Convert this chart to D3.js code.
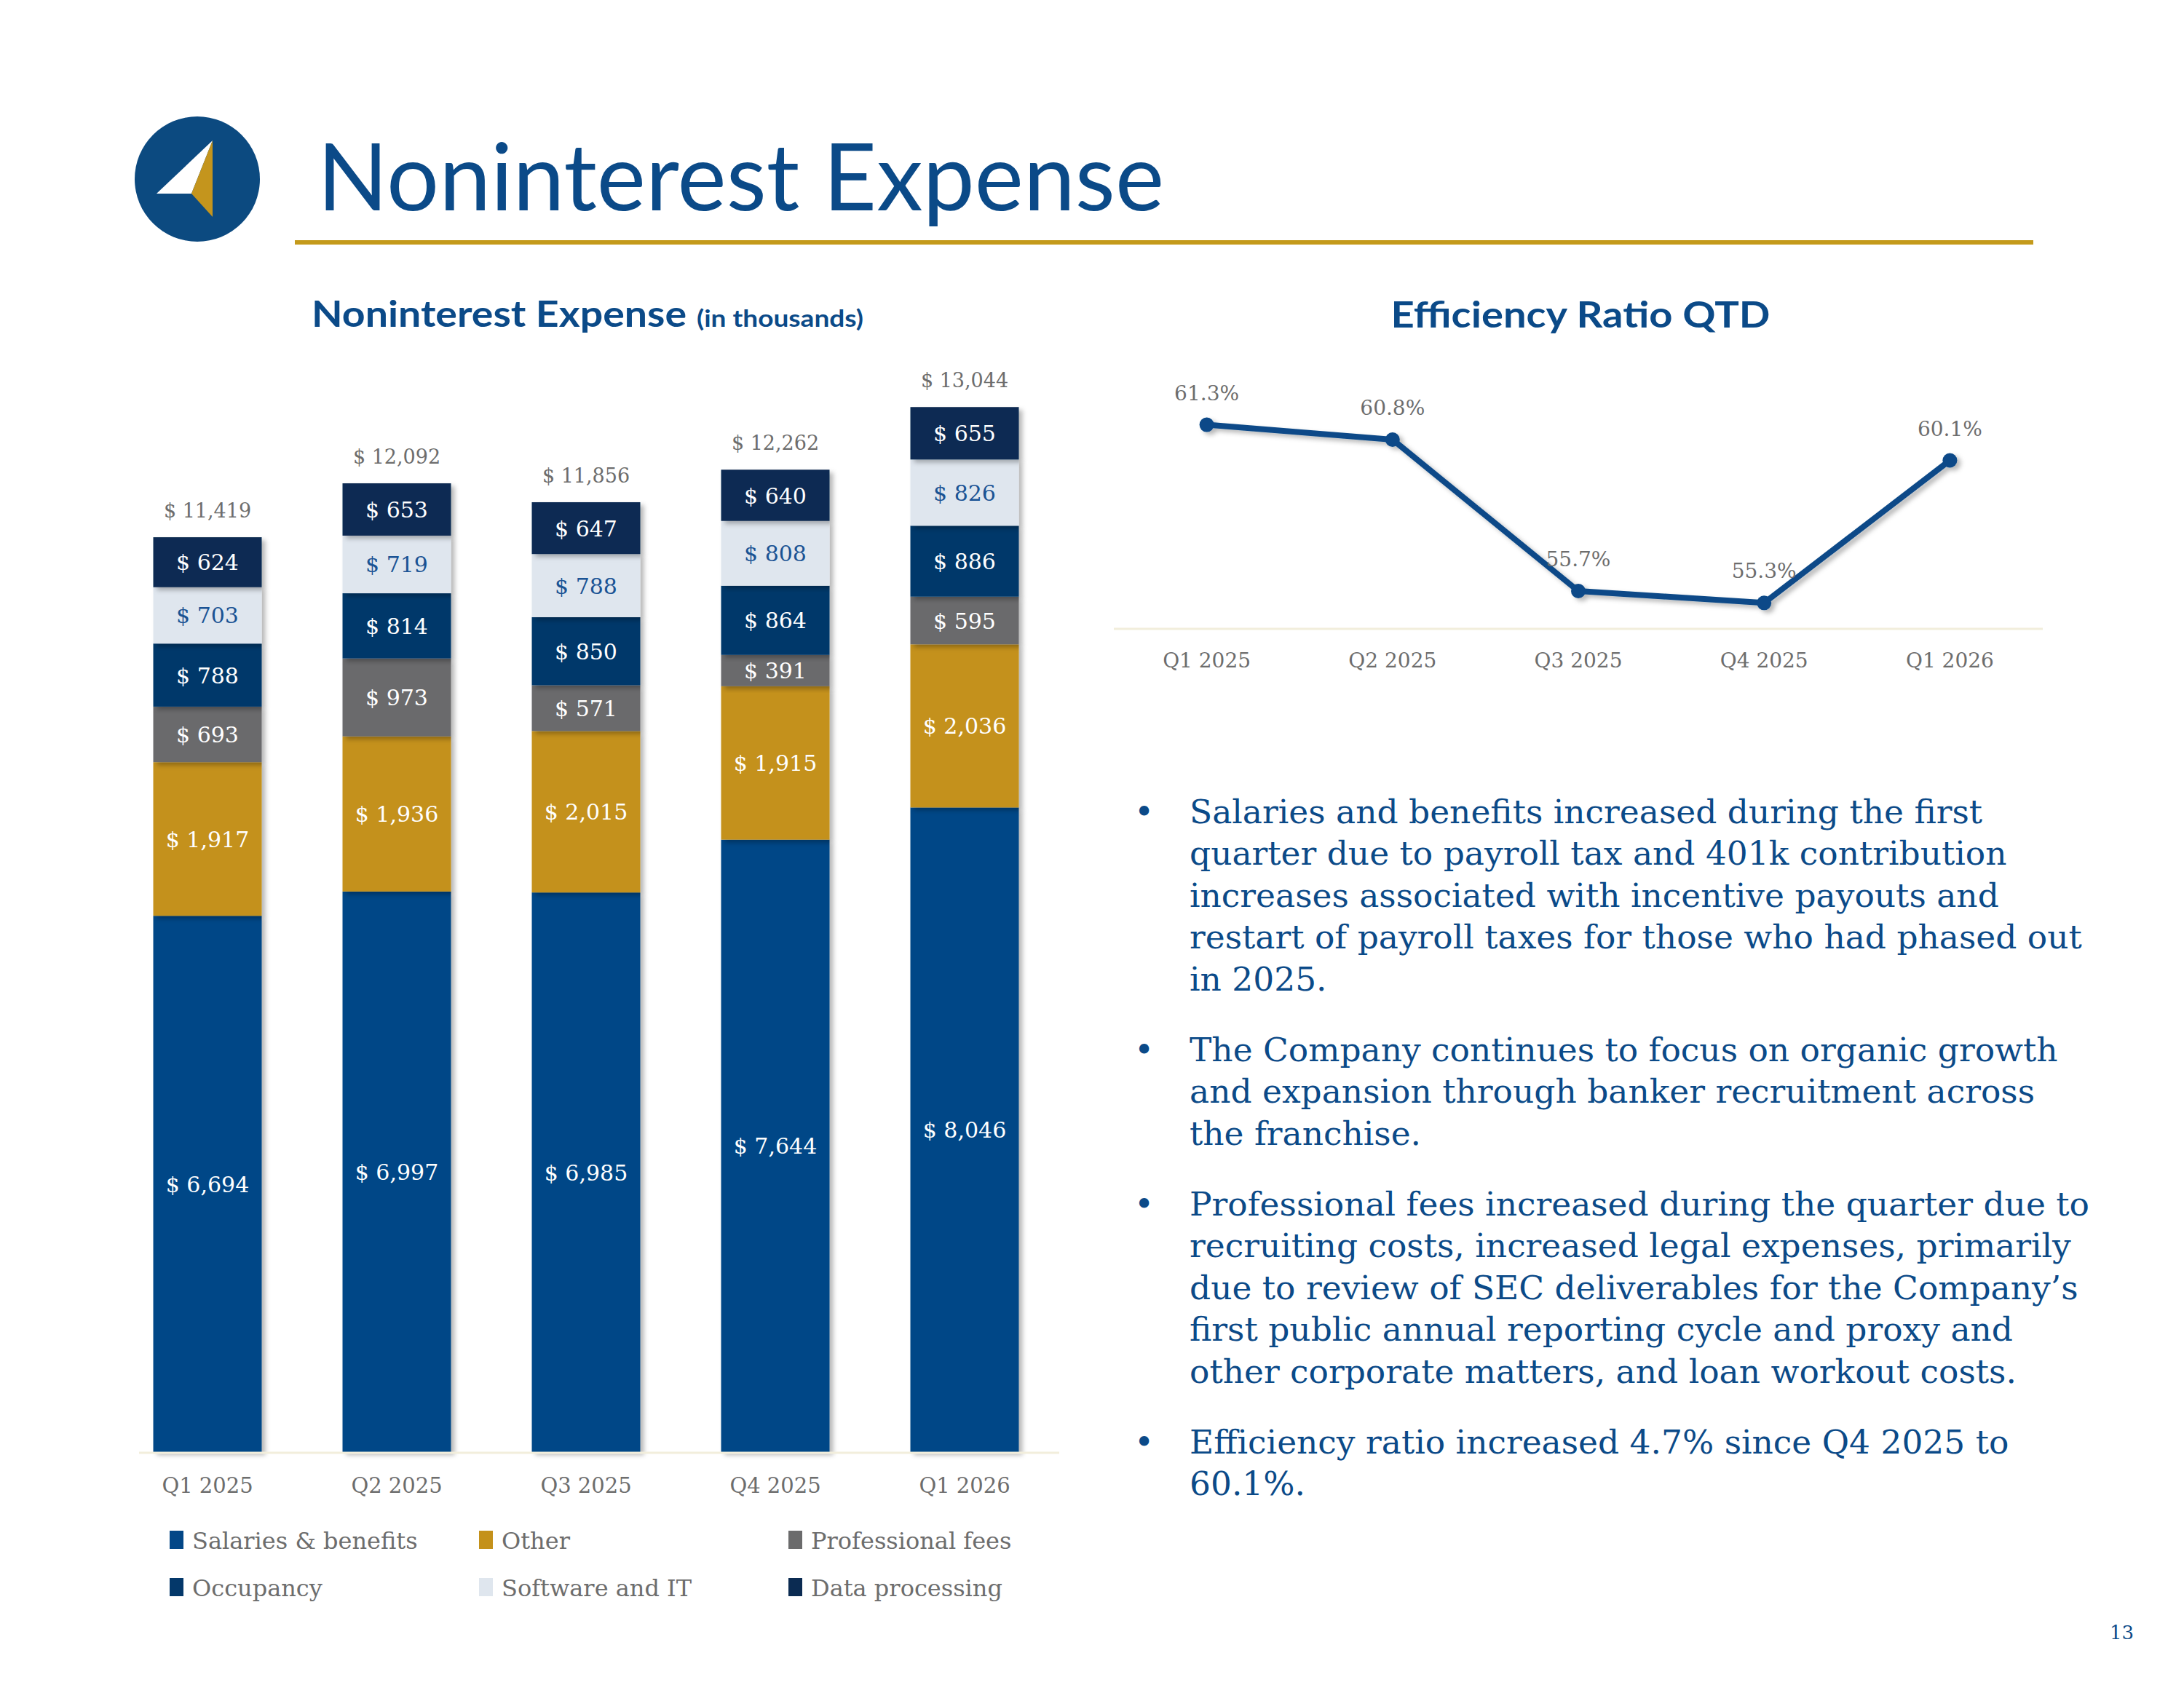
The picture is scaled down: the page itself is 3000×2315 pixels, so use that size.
<!DOCTYPE html>
<html>
<head>
<meta charset="utf-8">
<script src="https://cdn.jsdelivr.net/npm/d3@7"></script>
<style>
  body { margin: 0; background: #fff; }
  svg { display: block; }
</style>
</head>
<body>
<svg id="slide"></svg>
<script>
// quarters shared by both charts
const quarters = ["Q1 2025", "Q2 2025", "Q3 2025", "Q4 2025", "Q1 2026"];

// noninterest expense components (in thousands), bottom to top
const seriesNames = ["Salaries & benefits", "Other", "Professional fees", "Occupancy", "Software and IT", "Data processing"];
const salaries = [6694, 6997, 6985, 7644, 8046];
const other = [1917, 1936, 2015, 1915, 2036];
const profFees = [693, 973, 571, 391, 595];
const occupancy = [788, 814, 850, 864, 886];
const software = [703, 719, 788, 808, 826];
const dataProc = [624, 653, 647, 640, 655];
const totals = [11419, 12092, 11856, 12262, 13044];

// efficiency ratio QTD (%)
const efficiency = [61.3, 60.8, 55.7, 55.3, 60.1];

const bulletPoints = [
  ["Salaries and benefits increased during the first",
   "quarter due to payroll tax and 401k contribution",
   "increases associated with incentive payouts and",
   "restart of payroll taxes for those who had phased out",
   "in 2025."],
  ["The Company continues to focus on organic growth",
   "and expansion through banker recruitment across",
   "the franchise."],
  ["Professional fees increased during the quarter due to",
   "recruiting costs, increased legal expenses, primarily",
   "due to review of SEC deliverables for the Company\u2019s",
   "first public annual reporting cycle and proxy and",
   "other corporate matters, and loan workout costs."],
  ["Efficiency ratio increased 4.7% since Q4 2025 to",
   "60.1%."]
];

const colors = ["#034787", "#c4911a", "#6b6b6c", "#04386a", "#dfe6ee", "#0b2b52"];
const labelColors = ["#fff", "#fff", "#fff", "#fff", "#1a5394", "#fff"];
const blue = "#0b4a88";
const serif = "'DejaVu Serif', serif";
const sans = "Lato, 'Open Sans', sans-serif";

const W = 3000, H = 2315;
const svg = d3.select("#slide").attr("width", W).attr("height", H);
svg.append("rect").attr("width", W).attr("height", H).attr("fill", "#fff");

const defs = svg.append("defs");
defs.append("filter").attr("id", "shadow")
    .attr("x", "-20%").attr("y", "-20%").attr("width", "140%").attr("height", "140%")
  .append("feDropShadow")
    .attr("dx", 5).attr("dy", 4).attr("stdDeviation", 3)
    .attr("flood-color", "#000").attr("flood-opacity", 0.28);

// ---- header ----
const logo = svg.append("g");
logo.append("circle").attr("cx", 271).attr("cy", 246).attr("r", 86).attr("fill", "#0c4a80");
logo.append("polygon").attr("points", "292,193 215,266 263,266").attr("fill", "#fff");
logo.append("polygon").attr("points", "292,193 263,266 292,298").attr("fill", "#c4951d");

svg.append("text")
    .attr("x", 436).attr("y", 289)
    .attr("font-family", sans).attr("font-size", 128)
    .attr("fill", blue)
    .attr("textLength", 1163).attr("lengthAdjust", "spacingAndGlyphs")
    .text("Noninterest Expense");

svg.append("rect").attr("x", 405).attr("y", 330).attr("width", 2388).attr("height", 6).attr("fill", "#c49a1b");

// ---- bar chart ----
svg.append("text")
    .attr("x", 428).attr("y", 449)
    .attr("font-family", sans).attr("font-weight", 700).attr("font-size", 50)
    .attr("fill", blue)
    .attr("textLength", 515).attr("lengthAdjust", "spacingAndGlyphs")
    .text("Noninterest Expense");
svg.append("text")
    .attr("x", 957).attr("y", 449)
    .attr("font-family", sans).attr("font-weight", 700).attr("font-size", 33)
    .attr("fill", blue)
    .attr("textLength", 229).attr("lengthAdjust", "spacingAndGlyphs")
    .text("(in thousands)");

const x = d3.scaleBand()
    .domain(quarters)
    .range([155, 1455])
    .paddingInner(0.427)
    .paddingOuter(0.2135);

const y = d3.scaleLinear()
    .domain([0, 14000])
    .range([1995, 454]);

const allSeries = [salaries, other, profFees, occupancy, software, dataProc];
const table = quarters.map((q, i) => {
  const row = {quarter: q, total: totals[i]};
  seriesNames.forEach((s, j) => row[s] = allSeries[j][i]);
  return row;
});

const stacked = d3.stack().keys(seriesNames)(table);

const barG = svg.append("g");
const layers = barG.selectAll(".layer")
    .data(stacked)
    .join("g")
    .attr("class", "layer")
    .attr("fill", (d, i) => colors[i]);

layers.selectAll("rect")
    .data(d => d)
    .join("rect")
    .attr("x", d => x(d.data.quarter))
    .attr("y", d => y(d[1]))
    .attr("width", x.bandwidth())
    .attr("height", d => y(d[0]) - y(d[1]))
    .attr("filter", "url(#shadow)");

// segment labels
stacked.forEach((layer, i) => {
  barG.selectAll(".seg" + i)
      .data(layer)
      .join("text")
      .attr("x", d => x(d.data.quarter) + x.bandwidth() / 2)
      .attr("y", d => (y(d[0]) + y(d[1])) / 2 + 11)
      .attr("text-anchor", "middle")
      .attr("font-family", serif).attr("font-size", 30)
      .attr("fill", labelColors[i])
      .text(d => "$ " + d3.format(",")(d[1] - d[0]));
});

// totals
barG.selectAll(".total")
    .data(table)
    .join("text")
    .attr("x", d => x(d.quarter) + x.bandwidth() / 2)
    .attr("y", d => y(d.total) - 27)
    .attr("text-anchor", "middle")
    .attr("font-family", serif).attr("font-size", 27)
    .attr("fill", "#6d6d6d")
    .text(d => "$ " + d3.format(",")(d.total));

// x axis
svg.append("line")
    .attr("x1", 191).attr("x2", 1455).attr("y1", 1996).attr("y2", 1996)
    .attr("stroke", "#f2eedc").attr("stroke-width", 3);

const xAxisG = svg.append("g")
    .attr("transform", "translate(0,2010)")
    .call(d3.axisBottom(x).tickSize(0).tickPadding(0));
xAxisG.select(".domain").remove();
xAxisG.selectAll("text")
    .attr("dy", 0).attr("y", 41)
    .attr("font-family", serif).attr("font-size", 29)
    .attr("fill", "#6d6d6d");

// legend
const legendPos = [[233, 2116], [658, 2116], [1083, 2116], [233, 2181], [658, 2181], [1083, 2181]];
const legend = svg.append("g").selectAll("g")
    .data(seriesNames)
    .join("g")
    .attr("transform", (d, i) => `translate(${legendPos[i][0]},${legendPos[i][1]})`);
legend.append("rect")
    .attr("x", 0).attr("y", -13).attr("width", 19).attr("height", 25)
    .attr("fill", (d, i) => colors[i]);
legend.append("text")
    .attr("x", 31).attr("y", 12)
    .attr("font-family", serif).attr("font-size", 32)
    .attr("fill", "#6d6d6d")
    .text(d => d);

// ---- efficiency ratio line chart ----
svg.append("text")
    .attr("x", 2171).attr("y", 450)
    .attr("text-anchor", "middle")
    .attr("font-family", sans).attr("font-weight", 700).attr("font-size", 50)
    .attr("fill", blue)
    .attr("textLength", 521).attr("lengthAdjust", "spacingAndGlyphs")
    .text("Efficiency Ratio QTD");

const xl = d3.scaleBand()
    .domain(quarters)
    .range([1530, 2806])
    .padding(0);

const yl = d3.scaleLinear()
    .domain([54.45, 62])
    .range([863, 555]);

svg.append("line")
    .attr("x1", 1530).attr("x2", 2806).attr("y1", 864).attr("y2", 864)
    .attr("stroke", "#f2eedc").attr("stroke-width", 3);

const lineData = quarters.map((q, i) => ({quarter: q, value: efficiency[i]}));
const cx = d => xl(d.quarter) + xl.bandwidth() / 2;

const lineG = svg.append("g").attr("filter", "url(#shadow)");
lineG.append("path")
    .datum(lineData)
    .attr("d", d3.line().x(cx).y(d => yl(d.value)))
    .attr("fill", "none")
    .attr("stroke", blue).attr("stroke-width", 8)
    .attr("stroke-linejoin", "round");
lineG.selectAll("circle")
    .data(lineData)
    .join("circle")
    .attr("cx", cx).attr("cy", d => yl(d.value))
    .attr("r", 10)
    .attr("fill", blue);

svg.selectAll(".effLabel")
    .data(lineData)
    .join("text")
    .attr("class", "effLabel")
    .attr("x", cx).attr("y", d => yl(d.value) - 34)
    .attr("text-anchor", "middle")
    .attr("font-family", serif).attr("font-size", 28)
    .attr("fill", "#6d6d6d")
    .text(d => d3.format(".1f")(d.value) + "%");

const xlAxisG = svg.append("g")
    .attr("transform", "translate(0,880)")
    .call(d3.axisBottom(xl).tickSize(0).tickPadding(0));
xlAxisG.select(".domain").remove();
xlAxisG.selectAll("text")
    .attr("dy", 0).attr("y", 37)
    .attr("font-family", serif).attr("font-size", 28)
    .attr("fill", "#6d6d6d");

// ---- bullets ----
const bulletStarts = [1131, 1458, 1670, 1997];
const lineStep = 57.4;
const bulletG = svg.append("g")
    .attr("font-family", serif).attr("font-size", 45.5).attr("fill", blue);
bulletPoints.forEach((lines, i) => {
  bulletG.append("text")
      .attr("x", 1558).attr("y", bulletStarts[i])
      .attr("font-size", 46)
      .text("\u2022");
  lines.forEach((ln, k) => {
    bulletG.append("text")
        .attr("x", 1634).attr("y", bulletStarts[i] + k * lineStep)
        .text(ln);
  });
});

// page number
svg.append("text")
    .attr("x", 2931).attr("y", 2252)
    .attr("text-anchor", "end")
    .attr("font-family", serif).attr("font-size", 26)
    .attr("fill", blue)
    .text("13");
</script>
</body>
</html>
